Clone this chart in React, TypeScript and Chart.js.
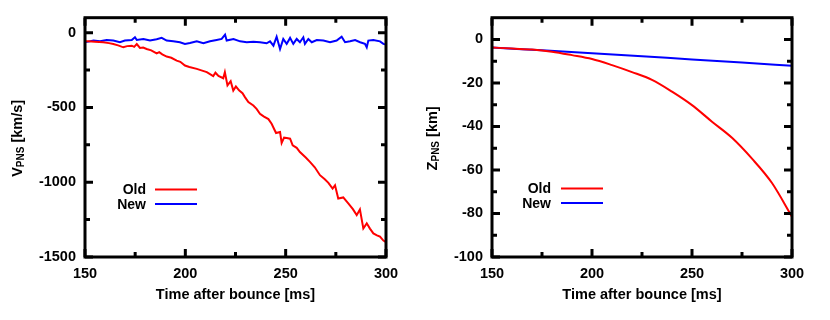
import React, { useEffect, useRef } from 'react';
import { Chart, registerables } from 'chart.js';

Chart.register(...registerables);

const FONT = "'Liberation Sans', Arial, Helvetica, sans-serif";

// ---------- Left panel: PNS velocity [km/s] ----------
const velOldTimes = [
  150, 151.7, 155, 159.1, 162, 164.1, 166.5, 169.1, 171, 173.3, 174.5, 175.8, 177.4, 179, 180.7,
  183, 185.7, 187, 188.5, 190.7, 193, 195.7, 197.5, 199.8, 202, 205.7, 208, 210.7, 213.9, 215,
  216.5, 218.9, 219.7, 221, 222.6, 223.9, 225.2, 226.9, 228.5, 229.7, 231.4, 233.9, 235.5, 237.2,
  239, 241.4, 243, 245.2, 247.2, 248, 249.2, 250.5, 252.2, 253.5, 255.5, 257.1, 260, 262.1, 264.5,
  267.1, 269.5, 271.3, 273.4, 274.6, 276.2, 278.7, 281.2, 283.5, 285.4, 287, 288.7, 290.4, 292,
  293.7, 295.5, 297, 298.7, 300,
];
const velOldValues = [
  -58, -58, -60, -64, -70, -76, -85, -98, -90, -87, -95, -76, -102, -100, -109,
  -118, -138, -130, -145, -160, -168, -187, -195, -220, -230, -242, -252, -264, -290, -268,
  -290, -305, -264, -353, -325, -387, -360, -387, -405, -431, -464, -487, -510, -542,
  -560, -578, -609, -671, -664, -738, -702, -705, -709, -753, -770, -798, -835, -864, -900,
  -953, -980, -1004, -1042, -1020, -1109, -1102, -1142, -1180, -1220, -1182, -1309, -1275, -1310,
  -1342, -1355, -1364, -1390, -1400,
];
const velNewTimes = [
  150, 151.7, 154.2, 157.5, 160.8, 164.1, 167.4, 169.9, 173.3, 174.9, 175.8, 179.1, 182.4, 185.7,
  188.2, 190.7, 194, 197.3, 199.8, 202.3, 205.7, 209, 212.3, 215.6, 218.1, 219.8, 220.6, 224,
  227.3, 230.6, 233.9, 237.2, 240.5, 242.2, 243.9, 245.5, 247.2, 248.8, 250.5, 252.2, 253.8,
  255.5, 257.1, 258.8, 259.6, 261.3, 263, 265.5, 268.8, 272.1, 275.4, 277.9, 279.6, 282.1,
  284.6, 287.1, 289.5, 290.4, 291.2, 293.7, 297, 298.7, 300,
];
const velNewValues = [
  -62, -60, -53, -58, -49, -53, -64, -53, -49, -31, -49, -42, -53, -44,
  -35, -53, -58, -64, -75, -69, -58, -71, -58, -49, -42, -13, -53, -42,
  -58, -64, -60, -64, -71, -58, -87, -27, -109, -42, -75, -35, -75,
  -42, -64, -31, -75, -42, -64, -49, -53, -64, -53, -27, -64, -58,
  -49, -64, -75, -98, -53, -49, -58, -75, -80,
];
const velTicks = [-1500, -1000, -500, 0];

// ---------- Right panel: PNS position [km] ----------
const posOldTimes = [150, 160, 170, 180, 190, 200, 210, 220, 230, 240, 250, 260, 270, 280, 290, 300];
const posOldValues = [-3.7, -4.2, -4.6, -5.6, -7.2, -9.0, -11.8, -15.0, -18.6, -24.0, -30.2, -37.8, -45.2, -54.8, -66.0, -81.5];
const posNewTimes = [150, 175, 200, 225, 250, 275, 300];
const posNewValues = [-3.7, -5.0, -6.3, -7.7, -9.2, -10.6, -12.1];
const posTicks = [-100, -80, -60, -40, -20, 0];

const xTicks = [150, 200, 250, 300];
const legendLabels = ['Old', 'New'];
const seriesColors = ['#ff0000', '#0000ff'];

const toXY = (ts: number[], vs: number[]) => ts.map((t, i) => ({ x: t, y: vs[i] }));

const decoPlugin = {
  id: 'panelDeco',
  afterDraw(chart: any, _args: any, opts: any) {
    const ctx = chart.ctx as CanvasRenderingContext2D;
    const { left, right, top, bottom } = chart.chartArea;
    const xs = chart.scales.x;
    const ys = chart.scales.y;
    ctx.save();
    ctx.strokeStyle = '#000';
    ctx.lineWidth = 3;
    ctx.lineCap = 'butt';
    ctx.strokeRect(left, top, right - left, bottom - top);

    const drawTicks = (scale: any, horizontal: boolean) => {
      const vals: number[] = scale.ticks.map((t: any) => t.value);
      const minors: number[] = [];
      for (let i = 0; i < vals.length - 1; i++) minors.push((vals[i] + vals[i + 1]) / 2);
      const draw = (v: number, len: number) => {
        const p = scale.getPixelForValue(v);
        ctx.beginPath();
        if (horizontal) {
          ctx.moveTo(p, bottom);
          ctx.lineTo(p, bottom - len);
          ctx.moveTo(p, top);
          ctx.lineTo(p, top + len);
        } else {
          ctx.moveTo(left, p);
          ctx.lineTo(left + len, p);
          ctx.moveTo(right, p);
          ctx.lineTo(right - len, p);
        }
        ctx.stroke();
      };
      vals.forEach((v) => draw(v, opts.major));
      minors.forEach((v) => draw(v, opts.minor));
    };
    drawTicks(xs, true);
    drawTicks(ys, false);

    // legend
    ctx.fillStyle = '#000';
    ctx.font = `bold 14px ${FONT}`;
    ctx.textAlign = 'right';
    ctx.textBaseline = 'middle';
    const lg = opts.legend;
    legendLabels.forEach((lab, i) => {
      const y = lg.y[i];
      ctx.fillText(lab, left + lg.textRight, y + 1);
      ctx.strokeStyle = seriesColors[i];
      ctx.lineWidth = 2;
      ctx.beginPath();
      ctx.moveTo(left + lg.lineStart, y);
      ctx.lineTo(left + lg.lineEnd, y);
      ctx.stroke();
    });

    // x title
    ctx.fillStyle = '#000';
    ctx.font = `bold 14.5px ${FONT}`;
    ctx.textAlign = 'center';
    ctx.textBaseline = 'alphabetic';
    ctx.fillText(opts.xTitle, (left + right) / 2, opts.xTitleY);

    // y title with subscript
    const [main, sub, rest] = opts.yTitle as string[];
    ctx.save();
    ctx.translate(opts.yTitleX, (top + bottom) / 2 + 1);
    ctx.rotate(-Math.PI / 2);
    ctx.textAlign = 'left';
    const mainFont = `bold 14.5px ${FONT}`;
    const subFont = `bold 10px ${FONT}`;
    ctx.font = mainFont;
    const w1 = ctx.measureText(main).width;
    const w3 = ctx.measureText(rest).width;
    ctx.font = subFont;
    const w2 = ctx.measureText(sub).width;
    let x = -(w1 + w2 + w3) / 2;
    ctx.font = mainFont;
    ctx.fillText(main, x, 0);
    x += w1;
    ctx.font = subFont;
    ctx.fillText(sub, x, 2);
    x += w2;
    ctx.font = mainFont;
    ctx.fillText(rest, x, 0);
    ctx.restore();

    ctx.restore();
  },
};

interface PanelCfg {
  datasets: any[];
  yMin: number;
  yMax: number;
  yTicks: number[];
  yWidth: number;
  padRight: number;
  yTitle: string[];
  legend: { textRight: number; lineStart: number; lineEnd: number; y: number[] };
}

function makeConfig(p: PanelCfg): any {
  const tickFont = { family: FONT, size: 14.5, weight: 'bold' as const };
  return {
    type: 'line',
    data: { datasets: p.datasets },
    plugins: [decoPlugin],
    options: {
      animation: false,
      responsive: false,
      devicePixelRatio: 1,
      layout: { padding: { top: 16, right: p.padRight, left: 0, bottom: 0 } },
      elements: { point: { radius: 0 } },
      plugins: {
        legend: { display: false },
        tooltip: { enabled: false },
        panelDeco: {
          major: 8,
          minor: 5,
          legend: p.legend,
          xTitle: 'Time after bounce [ms]',
          xTitleY: 298.5,
          yTitle: p.yTitle,
          yTitleX: 21.5,
        },
      },
      scales: {
        x: {
          type: 'linear',
          min: 150,
          max: 300,
          grid: { display: false, drawTicks: false },
          border: { display: false },
          afterBuildTicks: (s: any) => {
            s.ticks = xTicks.map((v) => ({ value: v }));
          },
          afterFit: (s: any) => {
            s.height = 63;
          },
          ticks: {
            autoSkip: false,
            maxRotation: 0,
            padding: 8,
            color: '#000',
            font: tickFont,
            callback: (v: number) => String(v),
          },
        },
        y: {
          type: 'linear',
          min: p.yMin,
          max: p.yMax,
          grid: { display: false, drawTicks: false },
          border: { display: false },
          afterBuildTicks: (s: any) => {
            s.ticks = p.yTicks.map((v) => ({ value: v }));
          },
          afterFit: (s: any) => {
            s.width = p.yWidth;
          },
          ticks: {
            autoSkip: false,
            padding: 9,
            color: '#000',
            font: tickFont,
            callback: (v: number) => String(v),
          },
        },
      },
    },
  };
}

function Panel({ cfg }: { cfg: PanelCfg }) {
  const ref = useRef<HTMLCanvasElement>(null);
  useEffect(() => {
    const chart = new Chart(ref.current as HTMLCanvasElement, makeConfig(cfg));
    return () => chart.destroy();
  }, []);
  return <canvas ref={ref} width={415} height={320} style={{ display: 'block', width: 415, height: 320 }} />;
}

const leftCfg: PanelCfg = {
  datasets: [
    { label: 'Old', data: toXY(velOldTimes, velOldValues), borderColor: seriesColors[0], borderWidth: 2, tension: 0 },
    { label: 'New', data: toXY(velNewTimes, velNewValues), borderColor: seriesColors[1], borderWidth: 2, tension: 0 },
  ],
  yMin: -1500,
  yMax: 100,
  yTicks: velTicks,
  yWidth: 85,
  padRight: 29,
  yTitle: ['V', 'PNS', ' [km/s]'],
  legend: { textRight: 61, lineStart: 70, lineEnd: 112, y: [189.5, 204] },
};

const rightCfg: PanelCfg = {
  datasets: [
    { label: 'Old', data: toXY(posOldTimes, posOldValues), borderColor: seriesColors[0], borderWidth: 2, cubicInterpolationMode: 'monotone' },
    { label: 'New', data: toXY(posNewTimes, posNewValues), borderColor: seriesColors[1], borderWidth: 2, cubicInterpolationMode: 'monotone' },
  ],
  yMin: -100,
  yMax: 10,
  yTicks: posTicks,
  yWidth: 77,
  padRight: 38,
  yTitle: ['Z', 'PNS', ' [km]'],
  legend: { textRight: 59, lineStart: 69, lineEnd: 111, y: [188.5, 203] },
};

export default function App() {
  return (
    <div style={{ position: 'fixed', left: 0, top: 0, width: 830, height: 320, display: 'flex', background: '#fff' }}>
      <Panel cfg={leftCfg} />
      <Panel cfg={rightCfg} />
    </div>
  );
}
